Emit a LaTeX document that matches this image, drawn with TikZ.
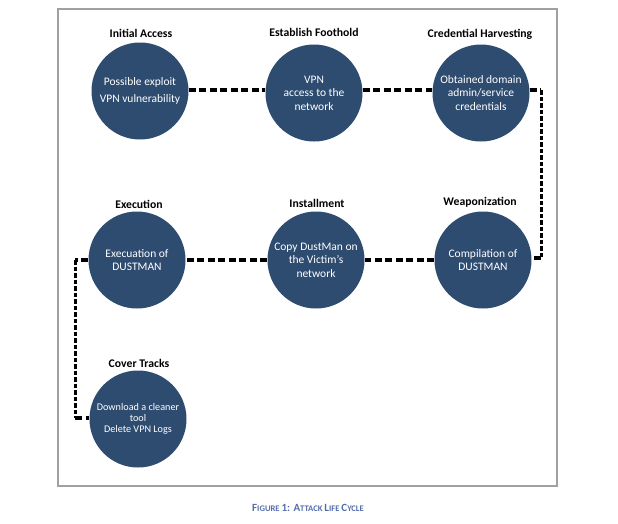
\documentclass[tikz,border=0pt]{standalone}
\usepackage{fontspec}
\setmainfont{Carlito}
\definecolor{circblue}{RGB}{46,75,112}
\definecolor{framegray}{RGB}{160,160,160}
\definecolor{capblue}{RGB}{84,110,170}
\begin{document}
\begin{tikzpicture}[x=1pt,y=-1pt,
  stage/.style={circle, fill=circblue, minimum size=97pt, inner sep=0pt, text=white, align=center, font=\fontsize{11.5}{13.5}\selectfont},
  title/.style={font=\fontsize{11.7}{13}\selectfont\bfseries, text=black, inner sep=0pt},
  hdash/.style={line width=3.5pt, dash pattern=on 7pt off 3.5pt},
  vdash/.style={line width=3pt, dash pattern=on 4.5pt off 2pt}]
\useasboundingbox (0,0) rectangle (618,523);
\draw[framegray, line width=1.5pt] (58,9) rectangle (557,486);
% circles
\node[stage, font=\fontsize{11.5}{16.5}\selectfont] (c1) at (140,91) {Possible exploit\\VPN vulnerability};
\node[stage] (c2) at (314,93) {VPN\\access to the\\network};
\node[stage] (c3) at (481,93) {Obtained domain\\admin/service\\credentials};
\node[stage] (c4) at (137,260) {Execuation of\\DUSTMAN};
\node[stage] (c5) at (316,260) {Copy DustMan on\\the Victim’s\\network};
\node[stage] (c6) at (483,260) {Compilation of\\DUSTMAN};
\node[stage, font=\fontsize{10.2}{11.3}\selectfont] (c7) at (138,419) {Download a cleaner\\tool\\Delete VPN Logs};
% titles
\node[title] (t1) at (141,33) {Initial Access};
\node[title] (t2) at (314,32) {Establish Foothold};
\node[title] (t3) at (480,34) {Credential Harvesting};
\node[title] (t4) at (139,204) {Execution};
\node[title] (t5) at (317,203) {Installment};
\node[title] (t6) at (480,202) {Weaponization};
\node[title] (t7) at (139,363) {Cover Tracks};
% connector turning points
\coordinate (r1) at (541,90);
\coordinate (r2) at (541,258);
\coordinate (l1) at (75,260);
\coordinate (l2) at (75,418);
% connectors
\draw[hdash] (c1.east |- 0,90) -- (c2.west |- 0,90);
\draw[hdash] (c2.east |- 0,90) -- (c3.west |- 0,90);
\draw[hdash] (c3.east |- r1) -- (r1);
\draw[vdash] (r1) -- (r2);
\draw[hdash] (r2) -- (c6.east |- r2);
\draw[hdash] (c6.west) -- (c5.east);
\draw[hdash] (c5.west) -- (c4.east);
\draw[hdash] (c4.west) -- (l1);
\draw[vdash] (l1) -- (l2);
\draw[hdash] (l2) -- (c7.west |- l2);
% caption
\node[text=capblue, inner sep=0pt, font=\bfseries] (cap) at (308,508) {\fontsize{11}{13}\selectfont F\fontsize{8.6}{11}\selectfont IGURE \fontsize{11}{13}\selectfont 1: A\fontsize{8.6}{11}\selectfont TTACK \fontsize{11}{13}\selectfont L\fontsize{8.6}{11}\selectfont IFE \fontsize{11}{13}\selectfont C\fontsize{8.6}{11}\selectfont YCLE};
\end{tikzpicture}
\end{document}
